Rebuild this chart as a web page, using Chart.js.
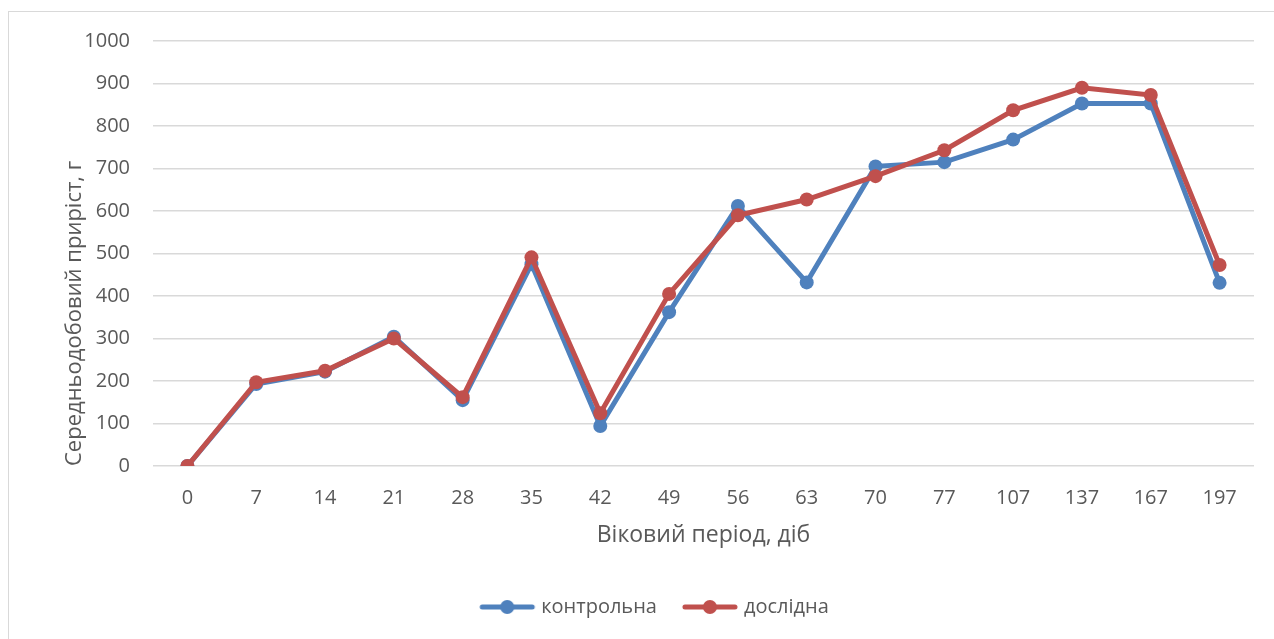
<!DOCTYPE html>
<html>
<head>
<meta charset="utf-8">
<script src="https://cdn.jsdelivr.net/npm/chart.js@4/dist/chart.umd.min.js"></script>
<style>
  html, body { margin: 0; padding: 0; background: #fff; }
  #wrap { position: relative; width: 1274px; height: 639px; }
  #frame { position: absolute; left: 8px; top: 11px; right: 0; bottom: 0; border-left: 1px solid #d9d9d9; border-top: 1px solid #d9d9d9; pointer-events: none; }
  canvas { position: absolute; left: 0; top: 0; }
</style>
</head>
<body>
<div id="wrap">
  <canvas id="c" width="1274" height="639"></canvas>
  <div id="frame"></div>
</div>
<script>
const categories = ['0','7','14','21','28','35','42','49','56','63','70','77','107','137','167','197'];
const control = [0, 193, 222, 304, 155, 475, 94, 362, 612, 432, 705, 715, 768, 853, 853, 431];
const experimental = [0, 197, 224, 300, 162, 491, 124, 405, 590, 627, 682, 743, 837, 890, 873, 473];
const seriesNames = ['контрольна', 'дослідна'];
const yTicks = [0, 100, 200, 300, 400, 500, 600, 700, 800, 900, 1000];
const xTitle = 'Віковий період, діб';
const yTitle = 'Середньодобовий приріст, г';

const BLUE = '#4F81BD';
const RED = '#C0504D';
const FONT = "'Open Sans', 'Liberation Sans', Arial, sans-serif";
const TXT = '#595959';

function legendIcon(color) {
  const cv = document.createElement('canvas');
  cv.width = 58; cv.height = 16;
  const g = cv.getContext('2d');
  g.strokeStyle = color; g.lineWidth = 5; g.lineCap = 'round';
  g.beginPath(); g.moveTo(4, 8); g.lineTo(54, 8); g.stroke();
  g.fillStyle = color;
  g.beginPath(); g.arc(29, 8, 7, 0, Math.PI * 2); g.fill();
  return cv;
}

new Chart(document.getElementById('c'), {
  type: 'line',
  data: {
    labels: categories,
    datasets: [
      { label: seriesNames[0], data: control, borderColor: BLUE, backgroundColor: BLUE,
        borderWidth: 5, pointRadius: 7, pointHoverRadius: 7, pointBackgroundColor: BLUE, pointBorderWidth: 0,
        tension: 0, pointStyle: 'circle', order: 2 },
      { label: seriesNames[1], data: experimental, borderColor: RED, backgroundColor: RED,
        borderWidth: 5, pointRadius: 7, pointHoverRadius: 7, pointBackgroundColor: RED, pointBorderWidth: 0,
        tension: 0, pointStyle: 'circle', order: 1 }
    ]
  },
  options: {
    responsive: false,
    animation: false,
    layout: { padding: { left: 58, right: 20, top: 41, bottom: 12 } },
    plugins: {
      tooltip: { enabled: false },
      legend: {
        position: 'bottom',
        labels: {
          usePointStyle: true,
          pointStyleWidth: 48,
          font: { family: FONT, size: 20 },
          color: TXT,
          padding: 29,
          generateLabels: (chart) => chart.data.datasets.map((ds, i) => ({
            text: ds.label,
            pointStyle: legendIcon(ds.borderColor),
            fillStyle: ds.borderColor,
            strokeStyle: ds.borderColor,
            lineWidth: 0,
            fontColor: TXT,
            hidden: false,
            datasetIndex: i
          }))
        }
      }
    },
    scales: {
      x: {
        grid: { display: false, drawTicks: false },
        border: { display: false },
        offset: true,
        ticks: { font: { family: FONT, size: 20 }, color: TXT, padding: 20, maxRotation: 0, autoSkip: false },
        title: { display: true, text: xTitle, font: { family: FONT, size: 23 }, color: TXT, padding: { top: 4, bottom: 19 } },
        afterFit: (s) => { s.height = 102; }
      },
      y: {
        min: 0, max: 1000,
        afterBuildTicks: (s) => { s.ticks = yTicks.map(v => ({ value: v })); },
        grid: { color: '#d9d9d9', lineWidth: 1.5, drawTicks: false },
        border: { display: false },
        ticks: { font: { family: FONT, size: 20 }, color: TXT, padding: 23, callback: (v) => String(v) },
        title: { display: true, text: yTitle, align: 'start', font: { family: FONT, size: 22 }, color: TXT, padding: { top: 4, bottom: 4 } },
        afterFit: (s) => { s.width = 95; }
      }
    }
  }
});
</script>
</body>
</html>
